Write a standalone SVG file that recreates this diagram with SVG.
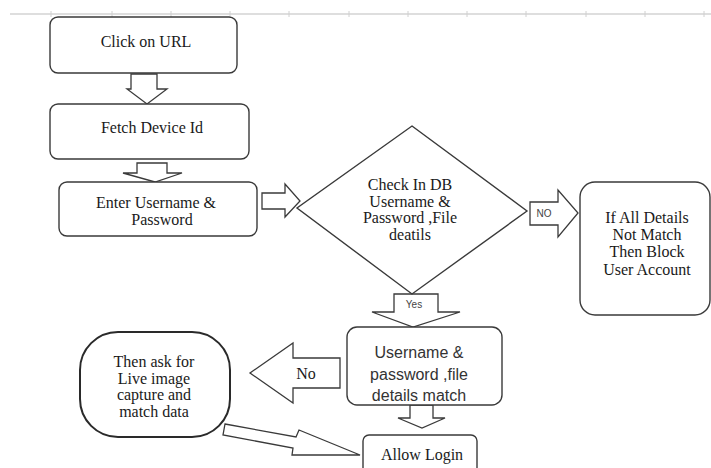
<svg xmlns="http://www.w3.org/2000/svg" width="711" height="468" viewBox="0 0 711 468">
  <style>
    .box { fill: #fff; stroke: #3a3a3a; stroke-width: 1.4; }
    .heavy { fill: #fff; stroke: #2a2a2a; stroke-width: 2; }
    .arrow { fill: #fff; stroke: #3a3a3a; stroke-width: 1.3; stroke-linejoin: miter; }
    .serif { font-size: 16px; fill: #1a1a1a; text-anchor: middle; }
    .sans { font-size: 16px; fill: #333; text-anchor: middle; }
    .tag { font-size: 10px; fill: #444; text-anchor: middle; }
    .ruler { stroke: #bdbdbd; stroke-width: 1.2; }
    .tick { stroke: #d0d0d0; stroke-width: 1; }
  </style>

  <rect width="711" height="468" fill="#fff"/>

  <!-- ruler along the top edge -->
  <g id="ruler">
    <line class="ruler" x1="10" y1="14" x2="711" y2="14"/>
    <g class="tick">
      <line x1="51" y1="11" x2="51" y2="17"/>
      <line x1="112" y1="11" x2="112" y2="17"/>
      <line x1="171" y1="11" x2="171" y2="17"/>
      <line x1="230" y1="11" x2="230" y2="17"/>
      <line x1="289" y1="11" x2="289" y2="17"/>
      <line x1="349" y1="11" x2="349" y2="17"/>
      <line x1="408" y1="11" x2="408" y2="17"/>
      <line x1="467" y1="11" x2="467" y2="17"/>
      <line x1="526" y1="11" x2="526" y2="17"/>
      <line x1="586" y1="11" x2="586" y2="17"/>
      <line x1="645" y1="11" x2="645" y2="17"/>
      <line x1="704" y1="11" x2="704" y2="17"/>
    </g>
  </g>

  <!-- block arrows between steps -->
  <g id="connectors">
    <polygon class="arrow" points="131,74 157,74 157,89 167,89 147,104 127,89 131,89"/>
    <polygon class="arrow" points="137,163 167,163 167,173 182,173 155,182 123,173 137,173"/>
    <polygon class="arrow" points="262,193 285,193 285,184 300,201 285,217 285,209 262,209"/>
    <polygon class="arrow" points="530,202 558,202 558,190 578,213 558,237 558,225 530,225"/>
    <text class="tag" font-family="Liberation Sans, sans-serif" x="544" y="217">NO</text>
    <polygon class="arrow" points="394,294 438,294 438,312 460,312 413,327 372,312 394,312"/>
    <text class="tag" font-family="Liberation Sans, sans-serif" x="414" y="308">Yes</text>
    <polygon class="arrow" points="340,358 340,388 293,388 293,403 250,373 293,343 293,358"/>
    <text class="serif" font-family="Liberation Serif, serif" x="306" y="379" font-size="15">No</text>
    <polygon class="arrow" points="410,405 433,405 433,418 445,418 422,428 398,418 410,418"/>
    <polygon class="arrow" points="225,424 296,437 299,430 360,455 292,455 293,448 223,435"/>
  </g>

  <g id="click-url" font-family="Liberation Serif, serif">
    <rect class="box" x="50" y="17" width="187" height="56" rx="8"/>
    <text class="serif" x="146" y="47">Click on URL</text>
  </g>

  <g id="fetch-device" font-family="Liberation Serif, serif">
    <rect class="box" x="50" y="104" width="199" height="55" rx="8"/>
    <text class="serif" x="152" y="133">Fetch Device Id</text>
  </g>

  <g id="enter-credentials" font-family="Liberation Serif, serif">
    <rect class="box" x="59" y="182" width="198" height="54" rx="8"/>
    <text class="serif" x="156" y="208">Enter Username &amp;</text>
    <text class="serif" x="162" y="225">Password</text>
  </g>

  <g id="check-db" font-family="Liberation Serif, serif">
    <polygon class="box" points="412,126 527,211 412,294 297,208"/>
    <text class="serif" x="410" y="190">Check In DB</text>
    <text class="serif" x="410" y="207">Username &amp;</text>
    <text class="serif" x="410" y="223">Password ,File</text>
    <text class="serif" x="410" y="240">deatils</text>
  </g>

  <g id="block-account" font-family="Liberation Serif, serif">
    <rect class="box" x="580" y="182" width="130" height="133" rx="15"/>
    <text class="serif" x="647" y="223">If All Details</text>
    <text class="serif" x="647" y="240">Not Match</text>
    <text class="serif" x="647" y="257">Then Block</text>
    <text class="serif" x="647" y="275">User Account</text>
  </g>

  <g id="details-match" font-family="Liberation Sans, sans-serif">
    <rect class="box" x="347" y="327" width="155" height="78" rx="10"/>
    <text class="sans" x="419" y="358">Username &amp;</text>
    <text class="sans" x="419" y="380">password ,file</text>
    <text class="sans" x="419" y="401">details match</text>
  </g>

  <g id="live-capture" font-family="Liberation Serif, serif">
    <rect class="heavy" x="80" y="332" width="150" height="105" rx="38"/>
    <text class="serif" x="154" y="367">Then ask for</text>
    <text class="serif" x="154" y="384">Live image</text>
    <text class="serif" x="154" y="400">capture and</text>
    <text class="serif" x="154" y="417">match data</text>
  </g>

  <g id="allow-login" font-family="Liberation Serif, serif">
    <rect class="box" x="363" y="435" width="114" height="45" rx="6"/>
    <text class="serif" x="422" y="460">Allow Login</text>
  </g>
</svg>
